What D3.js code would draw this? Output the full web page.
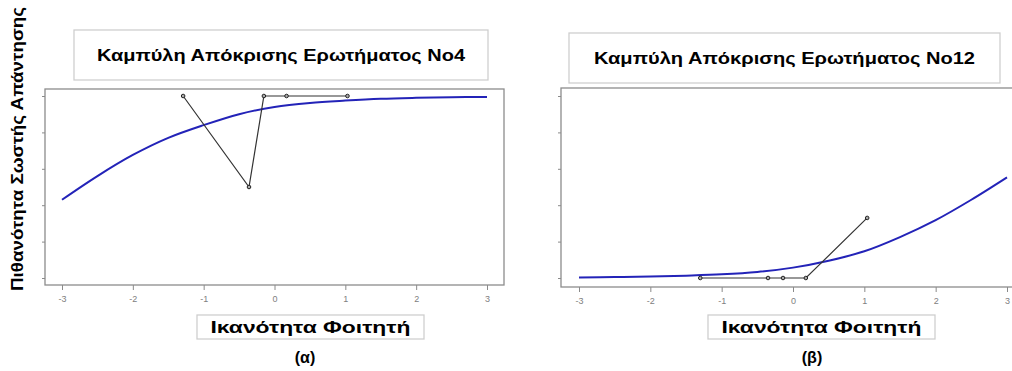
<!DOCTYPE html>
<html>
<head>
<meta charset="utf-8">
<script src="https://cdn.jsdelivr.net/npm/d3@7"></script>
<style>
  body { margin: 0; background: #fff; }
  svg { display: block; font-family: "Liberation Sans", Arial, sans-serif; }
  .tick text { fill: #808080; font-size: 9px; }
  .tick line { stroke: #8a8a8a; }
</style>
</head>
<body>
<div id="chart-area"></div>
<script>
// ability grid and item response curves
const thetaGrid = [-3, -2.5, -2, -1.5, -1, -0.5, 0, 0.5, 1, 1.5, 2, 2.5, 3];
const icc4  = [0.43, 0.56, 0.676, 0.77, 0.84, 0.90, 0.94, 0.962, 0.975, 0.985, 0.99, 0.993, 0.995];
const icc12 = [0.003, 0.005, 0.008, 0.013, 0.02, 0.033, 0.057, 0.095, 0.147, 0.225, 0.318, 0.43, 0.553];

// observed proportions per ability group
const obs4Theta  = [-1.29, -0.36, -0.15, 0.17, 1.03];
const obs4P      = [1, 0.5, 1, 1, 1];
const obs12Theta = [-1.30, -0.35, -0.14, 0.18, 1.04];
const obs12P     = [0, 0, 0, 0, 0.33];

const xTicks = [-3, -2, -1, 0, 1, 2, 3];
const yTicks = [0, 0.2, 0.4, 0.6, 0.8, 1];

const titles   = ["Καμπύλη Απόκρισης Ερωτήματος Νο4", "Καμπύλη Απόκρισης Ερωτήματος Νο12"];
const captions = ["(α)", "(β)"];
const xLabel = "Ικανότητα Φοιτητή";
const yLabel = "Πιθανότητα Σωστής Απάντησης";

const chart = {
  totalWidth: 1012,
  totalHeight: 371,
  svg: undefined,

  panels: [
    { frame: [45, 89, 504, 285],  xRange: [62, 487],  yRange: [278, 96],
      titleBox: [74, 30, 488, 80],  titleW: 368, labelBox: [197, 315, 424, 339], capX: 305,
      curve: icc4, obsT: obs4Theta, obsP: obs4P },
    { frame: [561, 88, 1014, 287], xRange: [579, 1007], yRange: [278, 96],
      titleBox: [569, 33, 1000, 83], titleW: 381, labelBox: [708, 315, 935, 339], capX: 812,
      curve: icc12, obsT: obs12Theta, obsP: obs12P }
  ],

  setup: function() {
    this.svg = d3.select("#chart-area")
      .append("svg")
        .attr("width", this.totalWidth)
        .attr("height", this.totalHeight);

    // Y-label (shared)
    this.svg.append("text")
      .attr("transform", "translate(17,149) rotate(-90)")
      .attr("text-anchor", "middle")
      .attr("dominant-baseline", "central")
      .attr("font-size", "17px")
      .attr("font-weight", "bold")
      .attr("textLength", 284)
      .attr("lengthAdjust", "spacingAndGlyphs")
      .text(yLabel);
  },

  box: function(b, stroke) {
    this.svg.append("rect")
      .attr("x", b[0]).attr("y", b[1])
      .attr("width", b[2] - b[0]).attr("height", b[3] - b[1])
      .attr("fill", "none")
      .attr("stroke", stroke)
      .attr("stroke-width", 1.3);
  },

  drawPanel: function(p, i) {
    const x = d3.scaleLinear().domain([-3, 3]).range(p.xRange);
    const y = d3.scaleLinear().domain([0, 1]).range(p.yRange);
    const f = p.frame;

    // title box
    this.box(p.titleBox, "#cfcfcf");
    this.svg.append("text")
      .attr("x", (p.titleBox[0] + p.titleBox[2]) / 2)
      .attr("y", (p.titleBox[1] + p.titleBox[3]) / 2 + 6)
      .attr("text-anchor", "middle")
      .attr("font-size", "17px")
      .attr("font-weight", "bold")
      .attr("textLength", p.titleW)
      .attr("lengthAdjust", "spacingAndGlyphs")
      .text(titles[i]);

    // axes
    this.svg.append("g")
      .attr("class", "x axis")
      .attr("transform", "translate(0," + f[3] + ")")
      .call(d3.axisBottom(x).tickValues(xTicks).tickSize(5).tickPadding(6).tickFormat(d => String(d)))
      .call(g => g.select(".domain").remove());

    this.svg.append("g")
      .attr("class", "y axis")
      .attr("transform", "translate(" + f[0] + ",0)")
      .call(d3.axisLeft(y).tickValues(yTicks).tickSize(3).tickFormat(""))
      .call(g => g.select(".domain").remove());

    // frame
    this.box(f, "#8c8c8c");

    // response curve
    const pts = thetaGrid.map((t, k) => [t, p.curve[k]]);
    this.svg.append("path")
      .datum(pts)
      .attr("fill", "none")
      .attr("stroke", "#2323b8")
      .attr("stroke-width", 2)
      .attr("d", d3.line().x(d => x(d[0])).y(d => y(d[1])).curve(d3.curveCatmullRom));

    // observed points
    const obs = p.obsT.map((t, k) => [t, p.obsP[k]]);
    this.svg.append("path")
      .datum(obs)
      .attr("fill", "none")
      .attr("stroke", "#333")
      .attr("stroke-width", 1.2)
      .attr("d", d3.line().x(d => x(d[0])).y(d => y(d[1])));

    this.svg.append("g").selectAll("circle")
      .data(obs)
      .enter()
      .append("circle")
        .attr("cx", d => x(d[0]))
        .attr("cy", d => y(d[1]))
        .attr("r", 1.8)
        .attr("fill", "#aaa")
        .attr("stroke", "#222")
        .attr("stroke-width", 1);

    // x-label box
    const lb = p.labelBox;
    this.box(lb, "#cfcfcf");
    this.svg.append("text")
      .attr("x", (lb[0] + lb[2]) / 2)
      .attr("y", lb[3] - 6)
      .attr("text-anchor", "middle")
      .attr("font-size", "17px")
      .attr("font-weight", "bold")
      .attr("textLength", 200)
      .attr("lengthAdjust", "spacingAndGlyphs")
      .text(xLabel);

    // caption
    this.svg.append("text")
      .attr("x", p.capX)
      .attr("y", 363)
      .attr("text-anchor", "middle")
      .attr("font-size", "16px")
      .attr("font-weight", "bold")
      .text(captions[i]);
  },

  start: function() {
    this.setup();
    this.panels.forEach((p, i) => this.drawPanel(p, i));
  }
};

chart.start();
</script>
</body>
</html>
